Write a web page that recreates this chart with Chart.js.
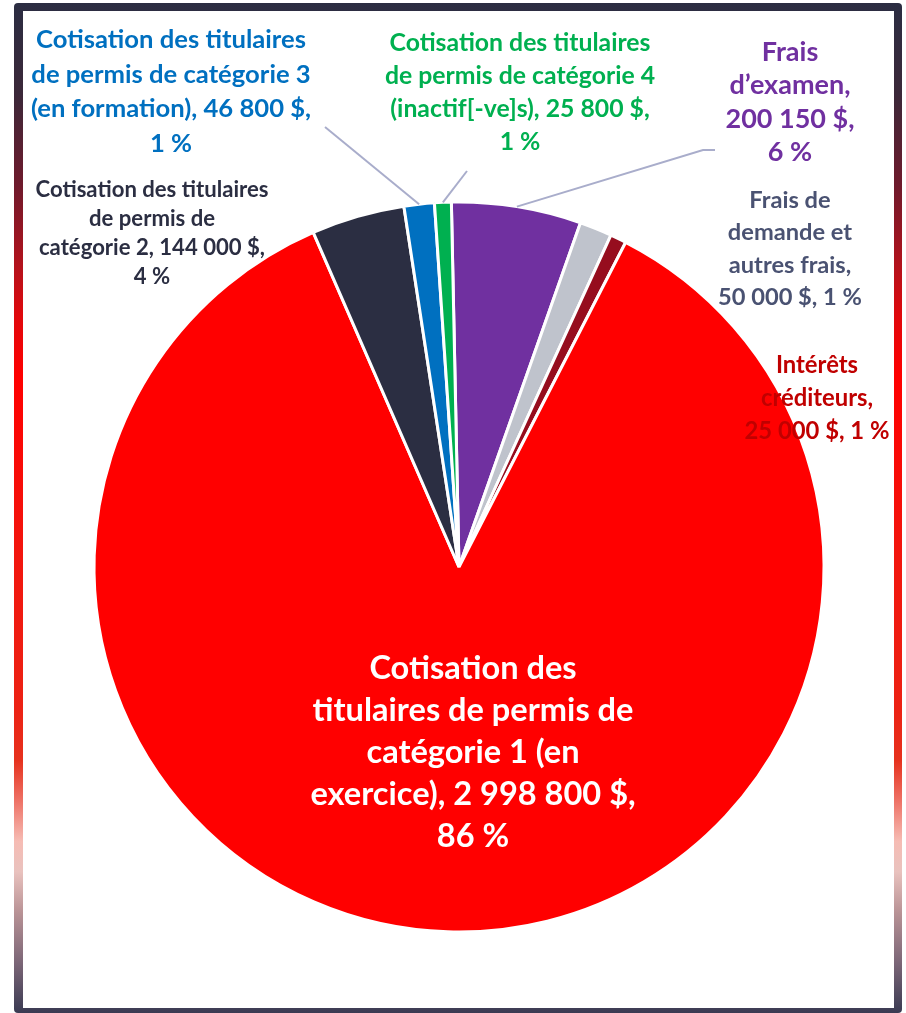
<!DOCTYPE html>
<html>
<head>
<meta charset="utf-8">
<script src="https://cdn.jsdelivr.net/npm/chart.js@4.4.1/dist/chart.umd.min.js"></script>
<style>
  html, body { margin: 0; padding: 0; background: #ffffff; }
  body { width: 906px; height: 1013px; position: relative; overflow: hidden; }
  #frame {
    position: absolute; left: 14px; top: 3px; width: 888px; height: 1010px;
    border-radius: 4px;
    background: linear-gradient(to bottom,
      #2b2d42 0%, #3b2839 9%, #6e1a2c 18%, #b3121c 26%, #e0080c 31%, #ff0000 37%,
      #f2160e 55%, #ec2214 70%, #e6321e 75%, #ee7266 79%, #f6bcb4 83%, #e9c2be 86%,
      #b99396 90%, #7c6677 95%, #3a3a52 100%);
  }
  #inner {
    position: absolute; left: 23px; top: 11px; width: 871px; height: 997px;
    background: #ffffff;
  }
  canvas { position: absolute; left: 0; top: 0; }
</style>
</head>
<body>
<div id="frame"></div>
<div id="inner"></div>
<canvas id="c" width="906" height="1013"></canvas>
<script>
// ---- data ----
const categories = [
  "Frais d’examen",
  "Frais de demande et autres frais",
  "Intérêts créditeurs",
  "Cotisation des titulaires de permis de catégorie 1 (en exercice)",
  "Cotisation des titulaires de permis de catégorie 2",
  "Cotisation des titulaires de permis de catégorie 3 (en formation)",
  "Cotisation des titulaires de permis de catégorie 4 (inactif[-ve]s)"
];
const amounts = [200150, 50000, 25000, 2998800, 144000, 46800, 25800];
const percents = [6, 1, 1, 86, 4, 1, 1];
const sliceColors = ["#7030A0", "#BFC3CC", "#960D1E", "#FF0000", "#2B2E42", "#0070C0", "#00B050"];
const labelColors = ["#7030A0", "#4A5272", "#C00000", "#FFFFFF", "#2B2E42", "#0070C0", "#00B050"];

// label text lines (as in the chart)
const labelLines = [
  ["Frais", "d’examen,", "200 150 $,", "6 %"],
  ["Frais de", "demande et", "autres frais,", "50 000 $, 1 %"],
  ["Intérêts", "créditeurs,", "25 000 $, 1 %"],
  ["Cotisation des", "titulaires de permis de", "catégorie 1 (en", "exercice), 2 998 800 $,", "86 %"],
  ["Cotisation des titulaires", "de permis de", "catégorie 2, 144 000 $,", "4 %"],
  ["Cotisation des titulaires", "de permis de catégorie 3", "(en formation), 46 800 $,", "1 %"],
  ["Cotisation des titulaires", "de permis de catégorie 4", "(inactif[-ve]s), 25 800 $,", "1 %"]
];

// ---- layout / style of labels ----
const labelLayout = [
  { x: 790, y: 52,  lh: 33.5, fitLine: 1, fitWidth: 121, leader: [[715,150],[703,150]] },
  { x: 790, y: 200, lh: 32.5, fitLine: 3, fitWidth: 144 },
  { x: 817, y: 365, lh: 33,   fitLine: 2, fitWidth: 145 },
  { x: 473, y: 668, lh: 42,   fitLine: 1, fitWidth: 321 },
  { x: 152, y: 190, lh: 29,   fitLine: 0, fitWidth: 233 },
  { x: 171, y: 40,  lh: 34.5, fitLine: 0, fitWidth: 270, leader: [[325,127]] },
  { x: 520, y: 43,  lh: 33,   fitLine: 0, fitWidth: 261, leader: [[467,171]] }
];
const FONT = "Lato, 'Open Sans', sans-serif";

const labelPlugin = {
  id: 'labelPlugin',
  afterDatasetsDraw(chart) {
    const ctx = chart.ctx;
    const meta = chart.getDatasetMeta(0);
    ctx.save();
    // leader lines
    labelLayout.forEach((L, i) => {
      if (!L.leader) return;
      const arc = meta.data[i];
      const mid = (arc.startAngle + arc.endAngle) / 2;
      const px = arc.x + Math.cos(mid) * arc.outerRadius;
      const py = arc.y + Math.sin(mid) * arc.outerRadius;
      ctx.beginPath();
      ctx.strokeStyle = "#A9ADCB";
      ctx.lineWidth = 2;
      ctx.moveTo(L.leader[0][0], L.leader[0][1]);
      for (let k = 1; k < L.leader.length; k++) ctx.lineTo(L.leader[k][0], L.leader[k][1]);
      ctx.lineTo(px, py);
      ctx.stroke();
    });
    // texts
    labelLayout.forEach((L, i) => {
      const lines = labelLines[i];
      ctx.font = "bold 100px " + FONT;
      const w = ctx.measureText(lines[L.fitLine]).width;
      const size = 100 * L.fitWidth / w;
      ctx.font = "bold " + size.toFixed(2) + "px " + FONT;
      ctx.fillStyle = labelColors[i];
      ctx.textAlign = "center";
      ctx.textBaseline = "middle";
      lines.forEach((t, k) => ctx.fillText(t, L.x, L.y + k * L.lh));
    });
    ctx.restore();
  }
};

new Chart(document.getElementById('c'), {
  type: 'pie',
  data: {
    labels: categories,
    datasets: [{
      data: amounts,
      backgroundColor: sliceColors,
      borderColor: "#FFFFFF",
      borderWidth: 3,
      hoverOffset: 0
    }]
  },
  options: {
    responsive: false,
    animation: false,
    rotation: -1.2,
    layout: { padding: { left: 92.5, right: 80.5, top: 200.5, bottom: 79.5 } },
    plugins: { legend: { display: false }, tooltip: { enabled: false } },
    events: []
  },
  plugins: [labelPlugin]
});
</script>
</body>
</html>
